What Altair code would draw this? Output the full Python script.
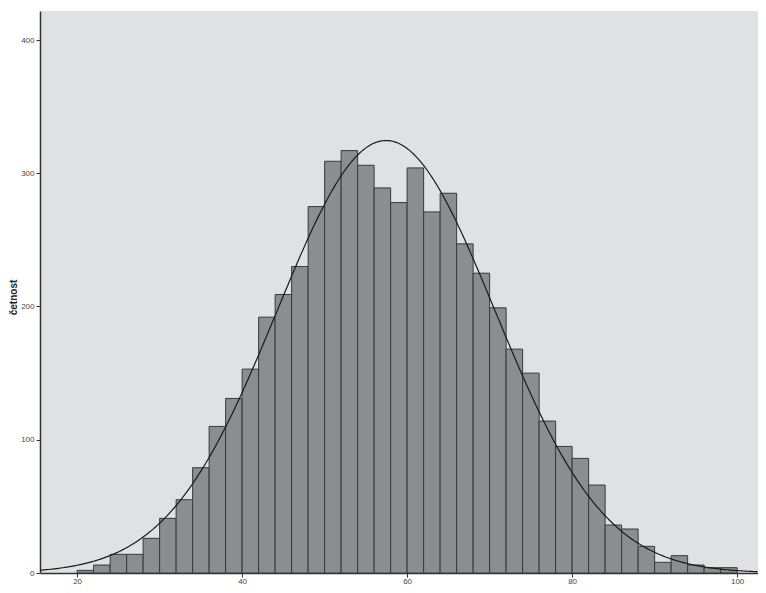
import altair as alt
import pandas as pd

# Histogram bins (width 2) and counts
bin_starts = [20, 22, 24, 26, 28, 30, 32, 34, 36, 38,
              40, 42, 44, 46, 48, 50, 52, 54, 56, 58,
              60, 62, 64, 66, 68, 70, 72, 74, 76, 78,
              80, 82, 84, 86, 88, 90, 92, 94, 96, 98]
counts = [2, 6, 14, 14, 26, 41, 55, 79, 110, 131,
          153, 192, 209, 230, 275, 309, 317, 306, 289, 278,
          304, 271, 285, 247, 225, 199, 168, 150, 114, 95,
          86, 66, 36, 33, 20, 8, 13, 6, 4, 4]
BIN_W = 2
# Normal curve parameters
MEAN = 57.45
SD = 13.2
N = sum(counts)

y_ticks = [0, 100, 200, 300, 400]
x_ticks = [20, 40, 60, 80, 100]
PLOT_W = 718
PLOT_H = 562
X_DOMAIN = [15.5, 15.5 + PLOT_W / 8.25]
Y_PX = (PLOT_H - 29) / 400.0
Y_DOMAIN = [0, PLOT_H / Y_PX]

df = pd.DataFrame({"start": bin_starts, "count": counts})
df["end"] = df["start"] + BIN_W

FONT = "Liberation Sans"

x_scale = alt.Scale(domain=X_DOMAIN, nice=False, zero=False)
y_scale = alt.Scale(domain=Y_DOMAIN, nice=False)

bars = alt.Chart(df).mark_rect(
    fill="#8c8d91", stroke="#383838", strokeWidth=1, clip=True
).encode(
    x=alt.X("start:Q", scale=x_scale,
            axis=alt.Axis(values=x_ticks, title=None, grid=False,
                          domainColor="#333333", domainWidth=1.5,
                          tickColor="#333333", tickSize=4, tickWidth=1,
                          labelFontSize=8, labelColor="#444444", labelFont=FONT,
                          labelPadding=0, labelFlush=False)),
    x2="end:Q",
    y=alt.Y("count:Q", scale=y_scale,
            axis=alt.Axis(values=y_ticks, title="četnost", grid=False,
                          domainColor="#333333", domainWidth=1.5,
                          tickColor="#333333", tickSize=4, tickWidth=1,
                          labelFontSize=8, labelColor="#444444", labelFont=FONT,
                          labelPadding=2,
                          titleFont=FONT, titleFontSize=10, titleFontWeight="bold",
                          titleColor="#222222", titleAngle=270,
                          titleAlign="center", titleBaseline="middle",
                          titleX=-27, titleY=286)),
    y2=alt.datum(0),
)

density = (f"{N * BIN_W}/({SD}*sqrt(2*PI))"
           f"*exp(-0.5*pow((datum.v-{MEAN})/{SD},2))")

curve = alt.Chart(alt.sequence(X_DOMAIN[0], X_DOMAIN[1] + 0.1, 0.25, as_="v")).transform_calculate(
    dens=density
).mark_line(color="#1a1a1a", strokeWidth=1.2, clip=True).encode(
    x=alt.X("v:Q", scale=x_scale),
    y=alt.Y("dens:Q", scale=y_scale),
)

chart = alt.layer(bars, curve).properties(
    width=PLOT_W, height=PLOT_H,
    autosize=alt.AutoSizeParams(type="none"),
    padding={"left": 32, "top": 3, "right": 0, "bottom": 12},
    background="white",
).configure_view(fill="#e0e1e3", stroke=None)

chart.save("out.html", embed_options={"renderer": "svg", "actions": False})
